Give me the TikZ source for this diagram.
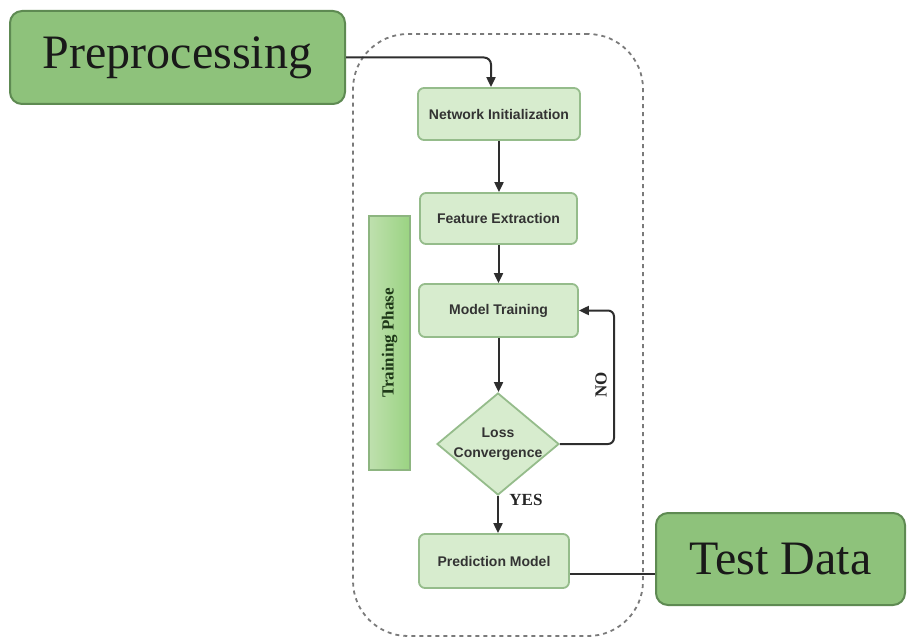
\documentclass[tikz,border=0pt]{standalone}
\usepackage{fontspec}
\setmainfont{Liberation Serif}
\newfontfamily\boxfont{Liberation Sans}
\usetikzlibrary{arrows.meta,shapes.geometric}
\definecolor{bigfill}{HTML}{8EC27B}
\definecolor{bigdraw}{HTML}{5E8A52}
\definecolor{smfill}{HTML}{D7ECCE}
\definecolor{smdraw}{HTML}{95BC8B}
\definecolor{linec}{HTML}{2E2E2E}
\definecolor{framec}{HTML}{7A7A7A}
\definecolor{barl}{HTML}{BFE0AE}
\definecolor{barr}{HTML}{9AD382}
\definecolor{bardraw}{HTML}{8DB580}
\definecolor{bartext}{HTML}{1E3818}
\tikzset{
  bigbox/.style={draw=bigdraw, fill=bigfill, line width=2pt, rounded corners=12pt,
    inner sep=0pt, font=\fontsize{48}{50}\selectfont, text=black!90},
  stepbox/.style={draw=smdraw, fill=smfill, line width=1.8pt, rounded corners=6pt,
    inner sep=0pt, font=\boxfont\bfseries\fontsize{14}{16}\selectfont, text=black!80},
  decbox/.style={draw=smdraw, fill=smfill, line width=1.8pt, diamond, inner sep=0pt},
  conn/.style={draw=linec, line width=2pt, -{Triangle[length=10pt,width=9pt]}},
  plainconn/.style={draw=linec, line width=2pt},
  lbl/.style={font=\bfseries\fontsize{17}{19}\selectfont, text=black!85, inner sep=0pt}
}
\begin{document}
\begin{tikzpicture}[x=1pt,y=-1pt]
\useasboundingbox (0,0) rectangle (907,639);
% dashed frame
\node (frame) [draw=framec, dashed, dash pattern=on 4pt off 4pt, line width=1.8pt,
  rounded corners=55pt, minimum width=290pt, minimum height=602pt, inner sep=0pt]
  at (498,335) {};
% training phase bar
\node (bar) [draw=bardraw, line width=1.2pt, left color=barl, right color=barr,
  minimum width=41pt, minimum height=254pt, inner sep=0pt] at (389.5,343) {};
\node (bartxt) [lbl, text=bartext, rotate=90] at (bar.center) {Training Phase};
% big boxes
\node (pre) [bigbox, minimum width=335pt, minimum height=93pt] at (177.5,57.5) {Preprocessing};
\node (td) [bigbox, minimum width=249pt, minimum height=92pt] at (780.5,559) {Test Data};
% steps
\node (ni) [stepbox, minimum width=162pt, minimum height=52pt] at (499,114) {Network Initialization};
\node (fe) [stepbox, minimum width=157pt, minimum height=51pt] at (498.5,218.5) {Feature Extraction};
\node (mt) [stepbox, minimum width=159pt, minimum height=53pt] at (498.5,310.5) {Model Training};
\node (dc) [decbox, minimum width=122pt, minimum height=102pt] at (498,444) {};
\node (dctxt) [font=\boxfont\bfseries\fontsize{14}{20}\selectfont, text=black!80, align=center, inner sep=0pt]
  at (dc.center) {Loss\\Convergence};
\node (pm) [stepbox, minimum width=150pt, minimum height=54pt] at (494,561) {Prediction Model};
% connectors
\draw[conn, rounded corners=7pt] (pre.east) -| ([xshift=-8pt]ni.north);
\draw[conn] (ni.south) -- (ni.south |- fe.north);
\draw[conn] (fe.south) -- (fe.south |- mt.north);
\draw[conn] (mt.south) -- (mt.south |- dc.north);
\draw[conn] (dc.south) -- (dc.south |- pm.north);
\coordinate (loopc) at (614,444);
\draw[conn, rounded corners=6pt] (dc.east) -- (loopc) |- (mt.east);
\draw[plainconn] ([yshift=-13pt]pm.east) -- ([yshift=-13pt]pm.east -| td.west);
% labels
\node (yes) [lbl] at (526,500) {YES};
\node (no) [lbl, rotate=90] at (601,385) {NO};
\end{tikzpicture}
\end{document}
